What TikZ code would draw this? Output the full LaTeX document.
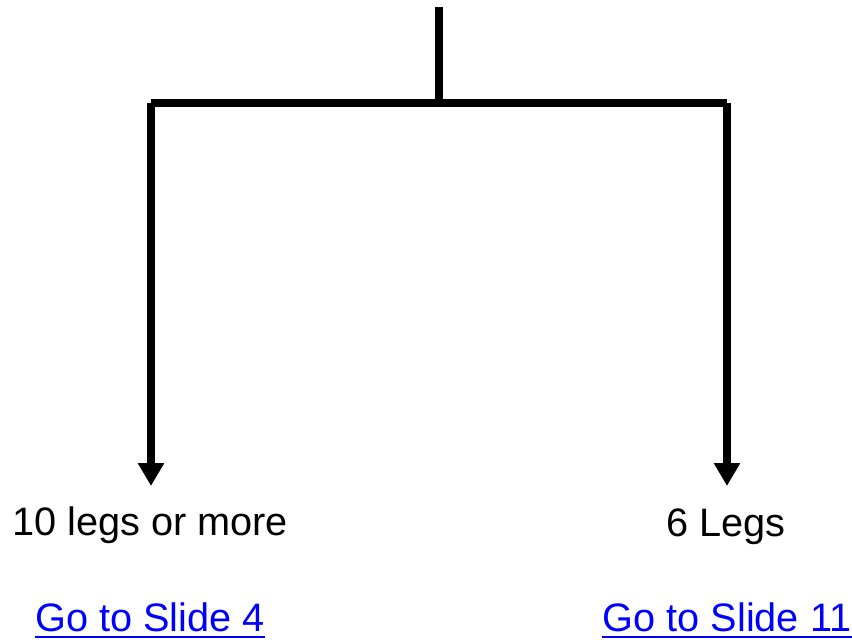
\documentclass[tikz,border=0pt]{standalone}
\usepackage{fontspec}
\setmainfont{Liberation Sans}
\usetikzlibrary{arrows.meta,calc}
\definecolor{linkblue}{RGB}{0,0,255}
\tikzset{
  wire/.style={line width=8pt, line cap=butt, black},
  arrowwire/.style={wire, -{Triangle[width=25pt,length=23pt]}},
  lbl/.style={anchor=base, inner sep=0pt, font=\fontsize{39.7}{46}\selectfont},
  linklbl/.style={lbl, text=linkblue},
  uline/.style={line width=2.5pt, linkblue}
}
\begin{document}
\begin{tikzpicture}[x=1pt,y=-1pt]
\useasboundingbox (0,0) rectangle (852,643);
\coordinate (top) at (439,7);
\coordinate (junc) at (439,103);
\coordinate (lc) at (151,103);
\coordinate (rc) at (727,103);
\coordinate (ltip) at (151,486);
\coordinate (rtip) at (727,486);
\draw[wire] (top) -- ($(junc)+(0,-4)$);
\draw[wire] (lc) -- (rc);
\draw[arrowwire] (lc) -- (ltip);
\draw[arrowwire] (rc) -- (rtip);
\node[lbl] (l1) at (150,535) {10 legs or more};
\node[lbl] (r1) at (726,536) {6 Legs};
\node[linklbl] (l2) at (150,631) {Go to Slide 4};
\node[linklbl] (r2) at (727,631) {Go to Slide 11};
\draw[uline] ($(l2.base west)+(0,6)$) -- ($(l2.base east)+(0,6)$);
\draw[uline] ($(r2.base west)+(0,6)$) -- ($(r2.base east)+(0,6)$);
\end{tikzpicture}
\end{document}
